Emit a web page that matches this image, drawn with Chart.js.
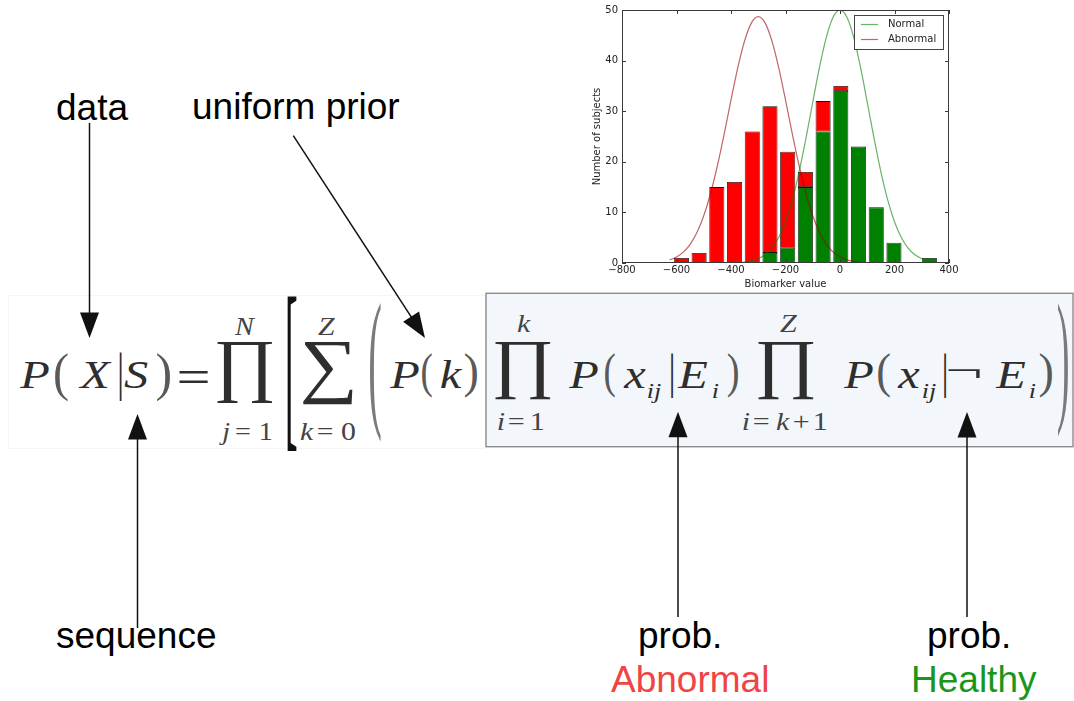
<!DOCTYPE html>
<html>
<head>
<meta charset="utf-8">
<script src="https://cdn.jsdelivr.net/npm/chart.js@4.4.1/dist/chart.umd.min.js"></script>
<style>
  html, body { margin: 0; padding: 0; background: #fff; }
  #stage { position: relative; width: 1074px; height: 701px; overflow: hidden; background: #fff; }
  #notes { position: absolute; left: 0; top: 0; }
  #hist { position: absolute; left: 580px; top: 0; width: 380px; height: 292px; }
</style>
</head>
<body>
<div id="stage">
  <svg id="notes" width="1074" height="701" xmlns="http://www.w3.org/2000/svg"></svg>
  <canvas id="hist" width="380" height="292"></canvas>
</div>
<script>
// ---- Histogram data: bin centres and subject counts per group ----
const binCenters     = [-582, -517, -452, -387, -322, -257, -192, -127, -62, 3, 68, 133, 198, 263, 328];
const normalCounts   = [0, 0, 0, 0, 0, 2, 3, 15, 26, 34, 23, 11, 4, 0, 1];
const abnormalCounts = [1, 2, 15, 16, 26, 29, 19, 3, 6, 1, 0, 0, 0, 0, 0];

// ---- Fitted density curves (scaled to counts) ----
const curveX = [-625, -600, -575, -550, -525, -500, -475, -450, -425, -400, -375, -350, -325, -300,
                -275, -250, -225, -200, -175, -150, -125, -100, -75, -50, -25, 0, 25, 50, 75, 100,
                125, 150, 175, 200, 225, 250, 275, 300];
const normalCurve = [0, 0, 0, 0, 0, 0, 0, 0, 0.01, 0.04, 0.08, 0.19, 0.42, 0.84,
                     1.62, 2.94, 5.03, 8.15, 12.47, 18.02, 24.61, 31.77, 38.74, 44.64, 48.61, 50.00,
                     48.61, 44.64, 38.74, 31.77, 24.61, 18.02, 12.47, 8.15, 5.03, 2.94, 1.62, 0.84];
const abnormalCurve = [0.62, 1.18, 2.14, 3.68, 6.01, 9.33, 13.74, 19.22, 25.53, 32.22, 38.60, 43.92, 47.46, 48.70,
                       47.46, 43.92, 38.60, 32.22, 25.53, 19.22, 13.74, 9.33, 6.01, 3.68, 2.14, 1.18,
                       0.62, 0.31, 0.15, 0.07, 0.03, 0.01, 0, 0, 0, 0, 0, 0];

const xTickValues = [-800, -600, -400, -200, 0, 200, 400];
const yTickValues = [0, 10, 20, 30, 40, 50];
const seriesNames = ['Normal', 'Abnormal'];
const axisTitles  = ['Biomarker value', 'Number of subjects'];

const toBars  = counts => binCenters.map((x, i) => ({ x, y: counts[i] > 0 ? counts[i] : null }));
const toCurve = vals => curveX.map((x, i) => ({ x, y: vals[i] }));
const minusFmt = v => (v < 0 ? '\u2212' + Math.abs(v) : String(v));

// Frame with inward ticks on all four sides, plus a boxed legend for the curves
const framePlugin = {
  id: 'frame',
  afterDatasetsDraw(chart) {
    const { ctx, chartArea: a, scales: { x, y } } = chart;
    ctx.save();
    ctx.strokeStyle = '#3a3a3a';
    ctx.lineWidth = 1;
    ctx.strokeRect(a.left + 0.5, a.top + 0.5, a.right - a.left - 1, a.bottom - a.top - 1);
    ctx.beginPath();
    xTickValues.forEach(v => {
      const px = Math.round(x.getPixelForValue(v)) + 0.5;
      ctx.moveTo(px, a.bottom); ctx.lineTo(px, a.bottom - 4);
      ctx.moveTo(px, a.top); ctx.lineTo(px, a.top + 4);
    });
    yTickValues.forEach(v => {
      const py = Math.round(y.getPixelForValue(v)) + 0.5;
      ctx.moveTo(a.left, py); ctx.lineTo(a.left + 4, py);
      ctx.moveTo(a.right, py); ctx.lineTo(a.right - 4, py);
    });
    ctx.stroke();

    // legend box
    const bw = 89, bh = 34;
    const bx = a.right - 6 - bw, by = a.top + 5;
    ctx.fillStyle = '#fff';
    ctx.fillRect(bx, by, bw, bh);
    ctx.strokeStyle = '#444';
    ctx.strokeRect(bx + 0.5, by + 0.5, bw, bh);
    ctx.font = '10px "DejaVu Sans", sans-serif';
    ctx.textBaseline = 'middle';
    ctx.textAlign = 'left';
    chart.data.datasets.filter(d => d.type === 'line').forEach((d, i) => {
      const ly = by + 9.5 + i * 15;
      ctx.strokeStyle = d.borderColor;
      ctx.lineWidth = 1.2;
      ctx.beginPath(); ctx.moveTo(bx + 7, ly); ctx.lineTo(bx + 24, ly); ctx.stroke();
      ctx.fillStyle = '#222';
      ctx.fillText(d.label, bx + 34, ly);
    });
    ctx.restore();
  }
};

Chart.defaults.font.family = '"DejaVu Sans", sans-serif';
Chart.defaults.color = '#222';

new Chart(document.getElementById('hist'), {
  type: 'bar',
  data: {
    datasets: [
      { type: 'line', label: seriesNames[0], data: toCurve(normalCurve), borderColor: 'rgba(0,128,0,0.6)',
        borderWidth: 1.2, pointRadius: 0, cubicInterpolationMode: 'monotone', stack: 'curveN', order: 0, fill: false },
      { type: 'line', label: seriesNames[1], data: toCurve(abnormalCurve), borderColor: 'rgba(150,0,0,0.6)',
        borderWidth: 1.2, pointRadius: 0, cubicInterpolationMode: 'monotone', stack: 'curveA', order: 0, fill: false },
      { type: 'bar', label: seriesNames[0] + ' subjects', data: toBars(normalCounts), backgroundColor: '#008000',
        borderColor: '#111', borderWidth: 0.8, borderSkipped: false, stack: 'hist', order: 1,
        categoryPercentage: 1, barPercentage: 0.85 },
      { type: 'bar', label: seriesNames[1] + ' subjects', data: toBars(abnormalCounts), backgroundColor: '#ff0000',
        borderColor: '#111', borderWidth: 0.8, borderSkipped: false, stack: 'hist', order: 1,
        categoryPercentage: 1, barPercentage: 0.85 }
    ]
  },
  options: {
    responsive: false,
    devicePixelRatio: 1,
    animation: false,
    layout: { padding: { left: 0, right: 11, top: 10, bottom: 0 } },
    plugins: { legend: { display: false }, tooltip: { enabled: false } },
    scales: {
      x: {
        type: 'linear', min: -800, max: 400, offset: false,
        grid: { display: false, drawTicks: false }, border: { display: false },
        afterBuildTicks: s => { s.ticks = xTickValues.map(v => ({ value: v })); },
        afterFit: s => { s.height = 29; },
        ticks: { autoSkip: false, maxRotation: 0, padding: 1, font: { size: 10 }, callback: v => minusFmt(v) },
        title: { display: true, text: axisTitles[0], font: { size: 10 }, padding: { top: 0, bottom: 2 } }
      },
      y: {
        min: 0, max: 50, stacked: true,
        grid: { display: false, drawTicks: false }, border: { display: false },
        afterBuildTicks: s => { s.ticks = yTickValues.map(v => ({ value: v })); },
        afterFit: s => { s.width = 42; },
        ticks: { padding: 4, font: { size: 10 }, callback: v => minusFmt(v) },
        title: { display: true, text: axisTitles[1], font: { size: 10 }, padding: { top: 11, bottom: 0 } }
      }
    }
  },
  plugins: [framePlugin]
});

// ---- Annotated likelihood formula drawn as SVG text ----
const NS = 'http://www.w3.org/2000/svg';
const svg = document.getElementById('notes');
const meas = document.createElement('canvas').getContext('2d');
const SERIF = '"Liberation Serif", "Times New Roman", serif';
const SANS = '"Liberation Sans", Arial, sans-serif';
const INK = '#2e2e2e', LIM = '#444';

function el(tag, attrs, parent = svg) {
  const e = document.createElementNS(NS, tag);
  for (const k in attrs) e.setAttribute(k, attrs[k]);
  parent.appendChild(e);
  return e;
}
function ink(str, family, style, size) {
  meas.font = `${style} ${size}px ${family}`;
  const m = meas.measureText(str);
  return { l: -m.actualBoundingBoxLeft, r: m.actualBoundingBoxRight, t: -m.actualBoundingBoxAscent, b: m.actualBoundingBoxDescent };
}
// text with its ink starting at x, sitting on baseline
function put(str, x, base, size, o = {}) {
  const family = o.family || SERIF, style = o.italic ? 'italic' : 'normal', sx = o.sx || 1;
  const k = ink(str, family, style, size);
  const e = el('text', { x: 0, y: 0, transform: `translate(${x - k.l * sx} ${base}) scale(${sx} 1)`,
    'font-family': family, 'font-size': size, 'font-style': style, fill: o.color || INK });
  e.textContent = str;
  return e;
}
// glyph stretched so its ink fills the given box
function fit(str, box, o = {}) {
  const family = o.family || SERIF, style = o.italic ? 'italic' : 'normal';
  const k = ink(str, family, style, 100);
  const sx = (box[2] - box[0]) / (k.r - k.l), sy = (box[3] - box[1]) / (k.b - k.t);
  const e = el('text', { x: 0, y: 0, transform: `translate(${box[0] - k.l * sx} ${box[1] - k.t * sy}) scale(${sx} ${sy})`,
    'font-family': family, 'font-size': 100, 'font-style': style, fill: o.color || INK });
  e.textContent = str;
  return e;
}
// big operator with its limits set in one text element; runs are [text, italic, inkLeft, baseline]
function op(glyph, box, runs, limSize) {
  const k = ink(glyph, SERIF, 'normal', 100);
  const size = 100 * (box[3] - box[1]) / (k.b - k.t);
  const f = size / 100;
  const sx = (box[2] - box[0]) / ((k.r - k.l) * f);
  const ox = box[0] - k.l * f * sx, oy = box[1] - k.t * f;
  const e = el('text', { transform: `translate(${ox} 0) scale(${sx} 1)`, 'font-family': SERIF });
  const g = el('tspan', { x: 0, y: oy, 'font-size': size, fill: INK }, e);
  g.textContent = glyph;
  runs.forEach(([t, it, x, base]) => {
    const r = ink(t, SERIF, it ? 'italic' : 'normal', limSize);
    const s = el('tspan', { x: (x - ox) / sx - r.l, y: base, 'font-size': limSize,
      'font-style': it ? 'italic' : 'normal', fill: LIM }, e);
    s.textContent = t;
  });
}
function arrow(x1, y1, x2, y2) {
  const dx = x2 - x1, dy = y2 - y1, L = Math.hypot(dx, dy), ux = dx / L, uy = dy / L;
  const hl = 25.5, hw = 9.5, bx = x2 - ux * hl, by = y2 - uy * hl;
  el('line', { x1, y1, x2: bx + ux * 2, y2: by + uy * 2, stroke: '#111', 'stroke-width': 1.5 });
  el('polygon', { points: `${x2},${y2} ${bx - uy * hw},${by + ux * hw} ${bx + uy * hw},${by - ux * hw}`, fill: '#111' });
}

// panels behind the formula
el('rect', { x: 8.5, y: 295.5, width: 477, height: 153, fill: 'none', stroke: '#f5f5f5', 'stroke-width': 1 });
el('rect', { x: 486, y: 293.3, width: 587, height: 153.4, fill: '#f3f7fb', stroke: '#8c8c8c', 'stroke-width': 1.4 });

const S = 41, SX = 1.18, L = 26, SUB = 22, B = 388;
const paren = '#5a5a5a', bigParen = '#7a7a7a';

// P(X|S) =
put('P', 19, B, S, { italic: true, sx: SX });
fit('(', [55, 353, 68, 402], { color: paren });
put('X', 78, B, S, { italic: true, sx: SX });
fit('|', [119.5, 353, 121.5, 401]);
put('S', 124, B, S, { italic: true, sx: SX });
fit(')', [157, 353, 170, 402], { color: paren });
fit('=', [179, 371, 208, 383]);

// product over j
op('\u220F', [217, 342, 272, 404],
   [['N', true, 234, 335], ['j', true, 219, 440], ['=', false, 236, 440], ['1', false, 261, 440]], L);

// bracket and sum over k
fit('[', [287.5, 296, 296.5, 450], { color: '#111' });
op('\u2211', [303, 342, 353, 405],
   [['Z', true, 318, 335], ['k', true, 300, 440], ['=', false, 318, 440], ['0', false, 341, 440]], L);
fit('(', [370, 302, 381, 442], { color: bigParen });

// P(k)
put('P', 389, B, S, { italic: true, sx: SX });
fit('(', [422, 353, 432, 398], { color: paren });
put('k', 441, B, S, { italic: true, sx: SX });
fit(')', [465, 353, 477, 398], { color: paren });

// product of abnormal terms
op('\u220F', [495, 342, 550, 400],
   [['k', true, 517, 332], ['i', true, 498, 430], ['=', false, 509, 430], ['1', false, 532, 430]], L);
put('P', 568, B, S, { italic: true, sx: SX });
fit('(', [605, 353, 615, 398], { color: paren });
put('x', 623, B, S, { italic: true, sx: SX });
put('ij', 648, 398, SUB, { italic: true, sx: SX });
fit('|', [671, 353, 673, 398]);
put('E', 677, B, S, { italic: true, sx: SX });
put('i', 713, 398, SUB, { italic: true, sx: SX });
fit(')', [728, 353, 738, 398], { color: paren });

// product of healthy terms
op('\u220F', [758, 342, 813, 400],
   [['Z', true, 780, 332], ['i', true, 743, 430], ['=', false, 754, 430], ['k', true, 776, 430],
    ['+', false, 794, 430], ['1', false, 815, 430]], L);
put('P', 843, B, S, { italic: true, sx: SX });
fit('(', [878, 353, 890, 398], { color: paren });
put('x', 897, B, S, { italic: true, sx: SX });
put('ij', 923, 398, SUB, { italic: true, sx: SX });
fit('|', [944, 353, 946, 398]);
fit('\u00AC', [948, 369, 980, 378]);
put('E', 995, B, S, { italic: true, sx: SX });
put('i', 1030, 398, SUB, { italic: true, sx: SX });
fit(')', [1040, 353, 1052, 398], { color: paren });
fit(')', [1058, 303, 1068, 437], { color: bigParen });

// callouts
put('data', 57, 120, 37, { family: SANS, color: '#000' });
put('uniform prior', 194, 119, 37, { family: SANS, color: '#000' });
put('sequence', 57, 648, 37, { family: SANS, color: '#000' });
put('prob.', 640, 648, 37, { family: SANS, color: '#000' });
put('Abnormal', 611, 692, 37, { family: SANS, color: '#f04444' });
put('prob.', 929, 648, 37, { family: SANS, color: '#000' });
put('Healthy', 914, 692, 37, { family: SANS, color: '#1a961a' });

arrow(89.5, 123, 89.5, 338);
arrow(293.3, 135.7, 425, 338);
arrow(137.5, 628, 137.5, 414);
arrow(678, 617, 678, 411.7);
arrow(967, 617, 967, 412);
</script>
</body>
</html>
